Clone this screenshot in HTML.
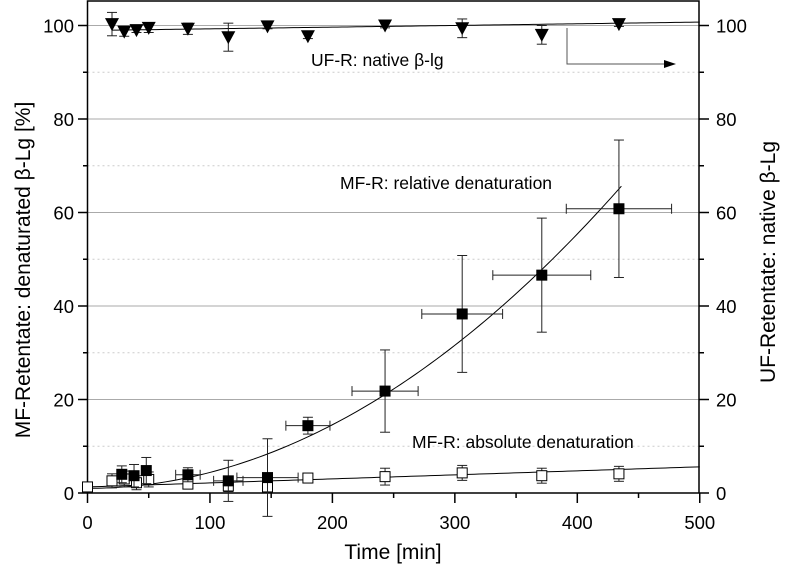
<!DOCTYPE html>
<html><head><meta charset="utf-8"><style>
body{margin:0;background:#fff}
svg{display:block;font-family:"Liberation Sans",Arial,sans-serif}
</style></head><body>
<svg id="chart" width="787" height="572" viewBox="0 0 787 572" xmlns="http://www.w3.org/2000/svg">
<g id="grid"></g>
<g id="axes"></g>
<g id="marks"></g>
<text x="311" y="66" font-size="17.5">UF-R: native β-lg</text>
<text x="340" y="189" font-size="17.5">MF-R: relative denaturation</text>
<text x="412" y="448" font-size="17.5">MF-R: absolute denaturation</text>
<polyline points="567,28 567,64 665,64" fill="none" stroke="#555" stroke-width="1"/>
<polygon points="676,64 664,60 664,68" fill="#000"/>
<text x="393" y="559" font-size="21" text-anchor="middle">Time [min]</text>
<text transform="translate(30,270) rotate(-90)" font-size="21" text-anchor="middle">MF-Retentate: denaturated β-Lg  [%]</text>
<text transform="translate(775,262) rotate(-90)" font-size="21" text-anchor="middle">UF-Retentate: native β-Lg</text>
</svg>
<script>
const xTicks=[0,100,200,300,400,500];
const yTicks=[0,20,40,60,80,100];
const relT=[28,38,48,82,115,147,180,243,306,371,434];
const relV=[4.0,3.7,4.8,3.9,2.6,3.3,14.4,21.8,38.3,46.6,60.8];
const relEy=[1.8,2.4,2.8,1.5,4.4,8.3,1.8,8.8,12.5,12.2,14.7];
const relEx=[0,0,0,10,12,25,18,27,33,40,43];
const absT=[0,20,30,40,50,82,115,147,180,243,306,371,434];
const absV=[1.3,2.6,3.0,2.2,2.9,1.9,1.5,1.3,3.2,3.5,4.3,3.7,4.1];
const absEy=[1.0,1.5,1.7,1.5,1.6,1.0,1.2,1.0,0.8,1.8,1.6,1.6,1.6];
const natT=[20,30,40,50,82,115,147,180,243,306,371,434];
const natV=[100.3,98.7,99.0,99.5,99.3,97.5,99.8,97.7,100,99.4,98,100.3];
const natEy=[2.5,1.0,0.5,1.0,1.2,3.0,0.5,0.5,0.5,2.0,2.0,0.5];
const relFit=[1.0,3.4e-4];
const absFit=[1.3,0.0086];
const natFit=[99.0,0.0036,20];
const X=t=>87.5+t*1.2245, Y=v=>493-v*4.675;
const NS="http://www.w3.org/2000/svg";
function mk(p,tag,at){const e=document.createElementNS(NS,tag);for(const k in at)e.setAttribute(k,at[k]);document.getElementById(p).appendChild(e);return e;}
for(let v=10;v<=100;v+=10){const major=v%20===0;const g=mk('grid','line',{x1:87.5,x2:699,y1:Y(v),y2:Y(v),stroke:major?'#aaa':'#ccc','stroke-width':1,'stroke-dasharray':major?'none':'2,3'});

}
const fr=mk('axes','rect',{x:87.5,y:1,width:611.5,height:492,fill:'none',stroke:'#000','stroke-width':1.5});


xTicks.forEach(t=>{mk('axes','line',{x1:X(t),x2:X(t),y1:493,y2:503,stroke:'#000','stroke-width':1.5});
const tx=mk('axes','text',{x:X(t),y:529,'font-size':18.5,'text-anchor':'middle'});tx.textContent=t;

});
for(let t=50;t<500;t+=100)mk('axes','line',{x1:X(t),x2:X(t),y1:493,y2:498,stroke:'#000','stroke-width':1.5});
yTicks.forEach(v=>{mk('axes','line',{x1:78,x2:87.5,y1:Y(v),y2:Y(v),stroke:'#000','stroke-width':1.5});
mk('axes','line',{x1:699,x2:709,y1:Y(v),y2:Y(v),stroke:'#000','stroke-width':1.5});
const a=mk('axes','text',{x:74,y:Y(v)+7,'font-size':18.5,'text-anchor':'end'});a.textContent=v;


const b=mk('axes','text',{x:716,y:Y(v)+7,'font-size':18.5});b.textContent=v;

});
for(let v=10;v<100;v+=20){mk('axes','line',{x1:83,x2:87.5,y1:Y(v),y2:Y(v),stroke:'#000','stroke-width':1.5});mk('axes','line',{x1:699,x2:704,y1:Y(v),y2:Y(v),stroke:'#000','stroke-width':1.5});}
function fit(f,t0,t1,name){let d='';for(let t=t0;t<=t1;t+=4){d+=(d?'L':'M')+X(t)+','+Y(f(t));}
const p=mk('marks','path',{d:d,fill:'none',stroke:'#000','stroke-width':1});

}
fit(t=>absFit[0]+absFit[1]*t,0,500,'absolute-fit');
fit(t=>relFit[0]+relFit[1]*t*t,0,436,'relative-fit');
fit(t=>natFit[0]+natFit[1]*(t-natFit[2]),20,500,'native-fit');
function err(t,v,ey,ex){const c={stroke:'#222','stroke-width':1};
if(ey){mk('marks','line',Object.assign({x1:X(t),x2:X(t),y1:Y(v-ey),y2:Y(v+ey)},c));
mk('marks','line',Object.assign({x1:X(t)-5,x2:X(t)+5,y1:Y(v-ey),y2:Y(v-ey)},c));
mk('marks','line',Object.assign({x1:X(t)-5,x2:X(t)+5,y1:Y(v+ey),y2:Y(v+ey)},c));}
if(ex){mk('marks','line',Object.assign({x1:X(t-ex),x2:X(t+ex),y1:Y(v),y2:Y(v)},c));
mk('marks','line',Object.assign({x1:X(t-ex),x2:X(t-ex),y1:Y(v)-5,y2:Y(v)+5},c));
mk('marks','line',Object.assign({x1:X(t+ex),x2:X(t+ex),y1:Y(v)-5,y2:Y(v)+5},c));}}
absT.forEach((t,i)=>{err(t,absV[i],absEy[i],0);
const r=mk('marks','rect',{x:X(t)-5,y:Y(absV[i])-5,width:10,height:10,fill:'#fff',stroke:'#000','stroke-width':1});

});
relT.forEach((t,i)=>{err(t,relV[i],relEy[i],relEx[i]);
const r=mk('marks','rect',{x:X(t)-5.5,y:Y(relV[i])-5.5,width:11,height:11,fill:'#000'});

});
natT.forEach((t,i)=>{err(t,natV[i],natEy[i],0);const x=X(t),y=Y(natV[i]);
const p=mk('marks','polygon',{points:`${x-7},${y-6} ${x+7},${y-6} ${x},${y+7}`,fill:'#000'});

});
</script>
</body></html>
